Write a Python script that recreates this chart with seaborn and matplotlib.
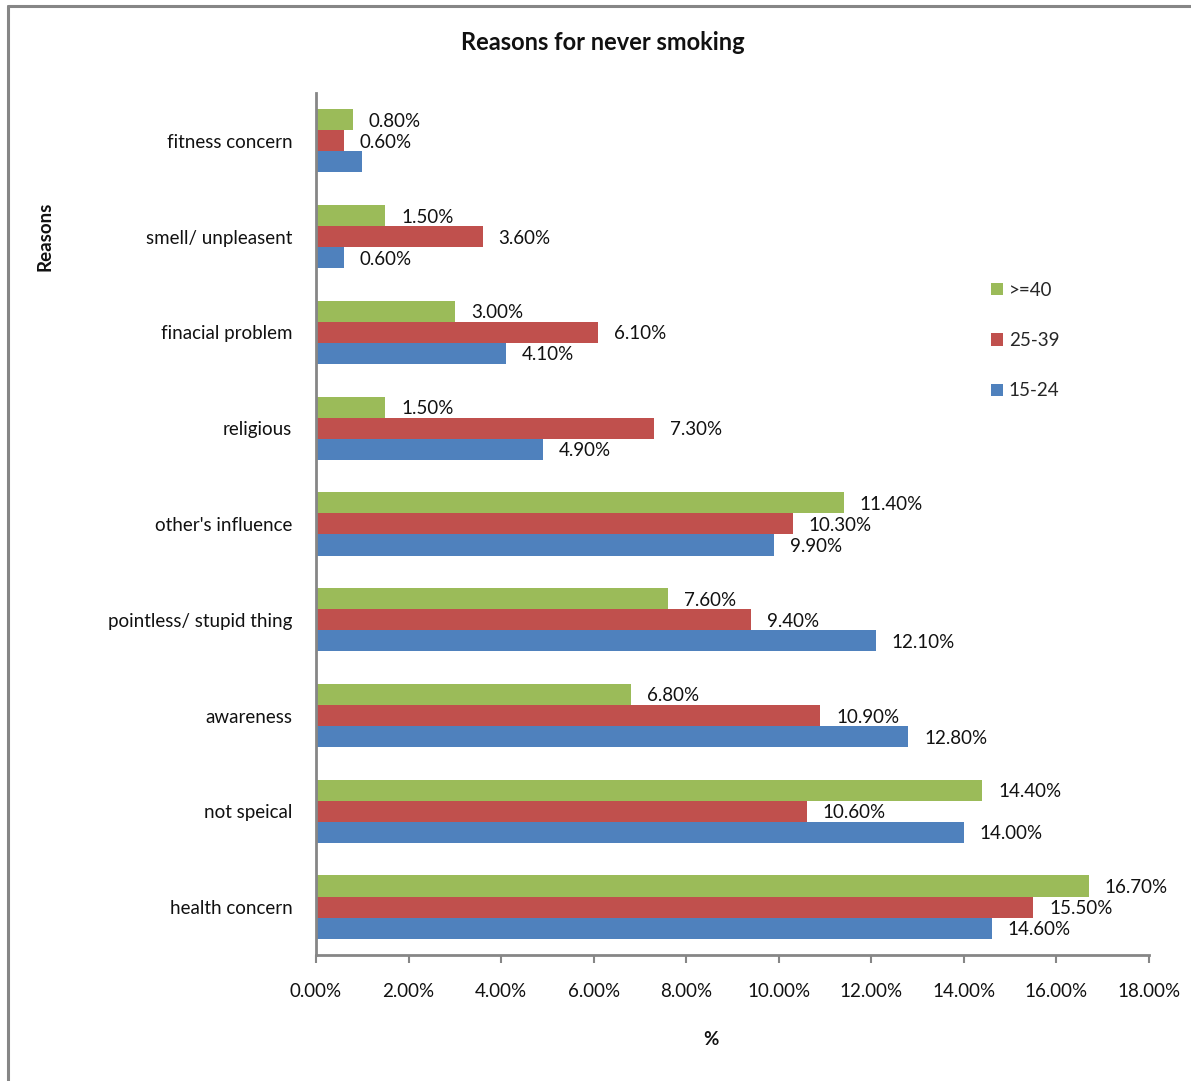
import matplotlib
matplotlib.use("Agg")
import matplotlib.pyplot as plt
from matplotlib.patches import Patch
from matplotlib.lines import Line2D
import seaborn as sns
import pandas as pd

reasons = [
    "fitness concern",
    "smell/ unpleasent",
    "finacial problem",
    "religious",
    "other's influence",
    "pointless/ stupid thing",
    "awareness",
    "not speical",
    "health concern",
]
age_groups = [">=40", "25-39", "15-24"]
share_40_plus = [0.8, 1.5, 3.0, 1.5, 11.4, 7.6, 6.8, 14.4, 16.7]
share_25_39 = [0.6, 3.6, 6.1, 7.3, 10.3, 9.4, 10.9, 10.6, 15.5]
share_15_24 = [1.0, 0.6, 4.1, 4.9, 9.9, 12.1, 12.8, 14.0, 14.6]
colors = ["#9BBB59", "#C0504D", "#4F81BD"]
x_ticks = [0, 2, 4, 6, 8, 10, 12, 14, 16, 18]

series = {">=40": share_40_plus, "25-39": share_25_39, "15-24": share_15_24}
df = pd.DataFrame(
    [(r, g, v) for g in age_groups for r, v in zip(reasons, series[g])],
    columns=["reason", "group", "value"],
)

sns.set_theme(style="white")
plt.rcParams["font.family"] = ["Lato", "DejaVu Sans"]

fig = plt.figure(figsize=(11.91, 10.81), dpi=100)
ax = fig.add_axes([0.2653, 0.1166, 0.6994, 0.7974])

sns.barplot(
    data=df, y="reason", x="value", hue="group",
    order=reasons, hue_order=age_groups, palette=colors,
    orient="h", width=0.66, saturation=1, linewidth=0, ax=ax, legend=False,
)

ax.set_xlim(0, 18)
ax.set_ylim(len(reasons) - 0.5, -0.5)
ax.set_xticks(x_ticks)
ax.set_xticklabels([f"{t:.2f}%" for t in x_ticks], fontsize=13.5, color="#111111")
ax.tick_params(axis="x", which="both", bottom=True, length=6, width=1.5,
               color="#868686", pad=14)
ax.tick_params(axis="y", left=False, labelsize=13.5, labelcolor="#111111", pad=11)
ax.set_xlabel("")
ax.set_ylabel("")
for side in ["top", "right"]:
    ax.spines[side].set_visible(False)
for side in ["left", "bottom"]:
    ax.spines[side].set_color("#868686")
    ax.spines[side].set_linewidth(2)

# value labels; the 15-24 bar for fitness concern carries none
for cont, g in zip(ax.containers, age_groups):
    labels = [f"{v:.2f}%" for v in series[g]]
    if g == "15-24":
        labels[0] = ""
    texts = ax.bar_label(cont, labels=labels, padding=11.5, fontsize=13.5, color="#111111")
    for t in texts:
        t.set_va("center_baseline")

handles = [Patch(facecolor=c, edgecolor="none", label=g) for g, c in zip(age_groups, colors)]
fig.legend(handles=handles, loc="upper left", bbox_to_anchor=(0.818, 0.755),
           frameon=False, fontsize=13.5, handlelength=0.65, handleheight=0.65,
           handletextpad=0.3, labelspacing=1.78)

fig.text(0.506, 0.961, "Reasons for never smoking", ha="center", va="center",
         fontsize=17, fontweight="bold", color="#111111")
fig.text(0.038, 0.781, "Reasons", ha="center", va="center", rotation=90,
         fontsize=13.5, fontweight="bold", color="#111111")
fig.text(0.597, 0.038, "%", ha="center", va="center",
         fontsize=13.5, fontweight="bold", color="#111111")

# outer chart frame (left and top edges)
fig.add_artist(Line2D([0.0067, 0.0067], [0, 0.9945], transform=fig.transFigure,
                      color="#868686", linewidth=2.2))
fig.add_artist(Line2D([0.0067, 1.0], [0.9945, 0.9945], transform=fig.transFigure,
                      color="#868686", linewidth=2.2))

fig.savefig("out.png", dpi=100)
